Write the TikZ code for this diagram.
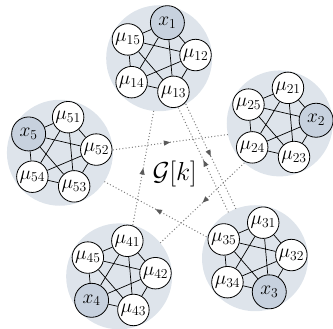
\RequirePackage{fix-cm}
\documentclass[tikz,border=0pt]{standalone}
\usetikzlibrary{arrows.meta,decorations.markings,calc}
\definecolor{clbg}{RGB}{222,228,235}
\definecolor{xfill}{RGB}{199,209,222}
\definecolor{dotc}{RGB}{125,125,125}
\definecolor{arrc}{RGB}{90,90,90}
\pgfdeclarelayer{clusterlayer}
\pgfdeclarelayer{edgelayer}
\pgfsetlayers{clusterlayer,edgelayer,main}
\begin{document}
\begin{tikzpicture}[x=1pt,y=-1pt,
  clusterbg/.style={circle,fill=clbg,minimum size=106pt,inner sep=0pt},
  munode/.style={circle,draw=black,line width=0.8pt,fill=white,minimum size=31.5pt,inner sep=0pt,font=\fontsize{19.5}{22}\selectfont},
  xnode/.style={munode,fill=xfill,minimum size=34pt},
  inedge/.style={line width=0.7pt,black},
  link/.style={dotc,line width=1pt,dash pattern=on 1pt off 2.2pt,postaction={decorate},
    decoration={markings,mark=at position 0.5 with {\arrow{Triangle[length=6.5pt,width=5pt,color=arrc]}}}}
]
\useasboundingbox (0,0) rectangle (333,329);
\coordinate (O) at (174.6,173.8);
\foreach \i/\a in {1/-97.6,2/-25.6,3/46.4,4/118.4,5/190.4}{
  \coordinate (C\i) at ($(O)+(\a:116.6)$);
}
\begin{pgfonlayer}{clusterlayer}
\foreach \i in {1,...,5}{\node[clusterbg] (bg\i) at (C\i) {};}
\end{pgfonlayer}
\foreach \i in {1,...,5}{
  \foreach \k in {1,...,5}{
    \pgfmathsetmacro\ang{-77+72*(\k-1)}
    \ifnum\i=\k
      \node[xnode] (n\i\k) at ($(C\i)+(\ang:36.5)$) {$x_{\i}$};
    \else
      \node[munode] (n\i\k) at ($(C\i)+(\ang:36.5)$) {$\mu_{\i\k}$};
    \fi
  }
}
\begin{pgfonlayer}{edgelayer}
\foreach \i in {1,...,5}{
  \foreach \a/\b in {1/2,1/3,1/4,1/5,2/3,2/4,2/5,3/4,3/5,4/5}{
    \draw[inedge] (n\i\a) -- (n\i\b);
  }
}
\foreach \a/\b/\s in {4/1/-4.5,5/2/-4.5,3/5/4.5,2/4/4.5,1/3/4.5,3/1/4.5}{
  \draw[link] ($(bg\a)!53pt!\s:(bg\b)$) -- ($(bg\b)!53pt!-\s:(bg\a)$);
}
\end{pgfonlayer}
\node[font=\fontsize{26}{30}\selectfont] (gk) at (O) {$\mathcal{G}[k]$};
\end{tikzpicture}
\end{document}
